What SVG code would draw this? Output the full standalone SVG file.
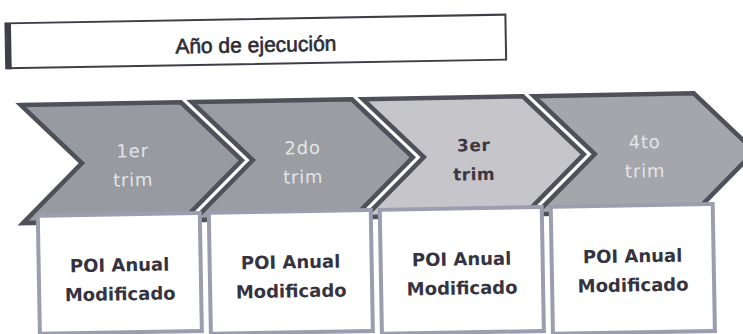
<svg xmlns="http://www.w3.org/2000/svg" width="743" height="334" viewBox="0 0 743 334">
  <style>
    .halo { fill: none; stroke: #ffffff; stroke-width: 8; stroke-linejoin: miter; }
    .chev { stroke: #50505a; stroke-width: 4.5; stroke-linejoin: miter; }
    .c1 { fill: #989aa1; }
    .c2 { fill: #9b9da3; }
    .c3 { fill: #c5c5ca; }
    .c4 { fill: #a5a6ac; }
    .ctl { font-family: "DejaVu Sans", "Liberation Sans", sans-serif; font-size: 18px; fill: #e4e4e6; text-anchor: middle; letter-spacing: 0.8px; }
    .ctd { font-family: "DejaVu Sans", "Liberation Sans", sans-serif; font-size: 17px; font-weight: bold; fill: #3a3842; text-anchor: middle; letter-spacing: 0.5px; }
    .box { fill: #ffffff; stroke: #9d9db0; stroke-width: 4; }
    .bt { font-family: "DejaVu Sans", "Liberation Sans", sans-serif; font-size: 18px; font-weight: bold; fill: #35333f; text-anchor: middle; }
    .title { font-family: "Liberation Sans", Arial, sans-serif; font-size: 21px; fill: #2c2c36; text-anchor: middle; stroke: #2c2c36; stroke-width: 0.6; }
  </style>
  <defs>
    <path id="chevShape" d="M0,99 L160,99 L220,158 L160,217 L0,217 L60,158 Z"/>
  </defs>
  <rect x="0" y="0" width="743" height="334" fill="#ffffff"/>
  <g transform="rotate(-1 371 167)">
    <g id="title">
      <rect x="8" y="17" width="500" height="45" fill="#ffffff" stroke="#3e3e48" stroke-width="2"/>
      <line x1="11" y1="17" x2="11" y2="63" stroke="#3e3e48" stroke-width="5"/>
      <text class="title" x="258" y="50">Año de ejecución</text>
    </g>
    <g id="chevron1">
      <use href="#chevShape" class="halo" transform="translate(22 0)"/>
      <use href="#chevShape" class="chev c1" transform="translate(22 0)"/>
      <text class="ctl" x="133" y="153">1er</text>
      <text class="ctl" x="133" y="182">trim</text>
    </g>
    <g id="chevron2">
      <use href="#chevShape" class="halo" transform="translate(193 0)"/>
      <use href="#chevShape" class="chev c2" transform="translate(193 0)"/>
      <text class="ctl" x="303" y="153">2do</text>
      <text class="ctl" x="303" y="182">trim</text>
    </g>
    <g id="chevron3">
      <use href="#chevShape" class="halo" transform="translate(364 0)"/>
      <use href="#chevShape" class="chev c3" transform="translate(364 0)"/>
      <text class="ctd" x="474" y="153">3er</text>
      <text class="ctd" x="474" y="182">trim</text>
    </g>
    <g id="chevron4">
      <use href="#chevShape" class="halo" transform="translate(535 0)"/>
      <use href="#chevShape" class="chev c4" transform="translate(535 0)"/>
      <text class="ctl" x="645" y="153">4to</text>
      <text class="ctl" x="645" y="182">trim</text>
    </g>
    <g id="box1">
      <rect class="box" x="37" y="210" width="162" height="118"/>
      <text class="bt" x="118" y="267">POI Anual</text>
      <text class="bt" x="118" y="296">Modificado</text>
    </g>
    <g id="box2">
      <rect class="box" x="208" y="210" width="162" height="121"/>
      <text class="bt" x="289" y="267">POI Anual</text>
      <text class="bt" x="289" y="296">Modificado</text>
    </g>
    <g id="box3">
      <rect class="box" x="379" y="210" width="162" height="124"/>
      <text class="bt" x="460" y="267">POI Anual</text>
      <text class="bt" x="460" y="296">Modificado</text>
    </g>
    <g id="box4">
      <rect class="box" x="550" y="210" width="162" height="127"/>
      <text class="bt" x="631" y="267">POI Anual</text>
      <text class="bt" x="631" y="296">Modificado</text>
    </g>
    <g id="connectors"></g>
  </g>
</svg>
